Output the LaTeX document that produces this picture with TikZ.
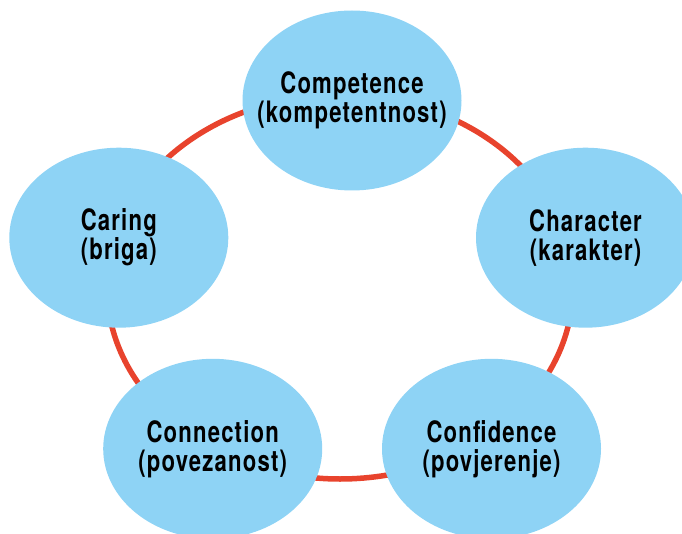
\documentclass[tikz,border=0pt]{standalone}
\usepackage{fontspec}
\usetikzlibrary{shapes.geometric}
\newfontfamily\bubblefont[FakeStretch=0.75,LetterSpace=4]{TeX Gyre Heros}
\definecolor{ringred}{RGB}{232,67,45}
\definecolor{bubbleblue}{RGB}{142,211,245}

\begin{document}
\begin{tikzpicture}[x=1pt,y=-1pt,
  bubble/.style={ellipse, fill=bubbleblue, minimum width=219pt, minimum height=180pt, inner sep=0pt},
  caption/.style={align=center, inner sep=0pt, font=\bubblefont\bfseries\fontsize{29.5}{29}\selectfont},
  ring/.style={draw=ringred, line width=5.5pt}]
\clip (0,0) rectangle (682,534);
% ring behind the five bubbles
\coordinate (mid) at (340,287);
\draw[ring] (mid) ellipse [x radius=233, y radius=192];
\node[bubble, label={[caption]center:Competence\\(kompetentnost)}] (competence) at (352,100.5) {};
\node[bubble, label={[caption]center:Character\\(karakter)}] (character) at (585.5,237.7) {};
\node[bubble, label={[caption]center:Confidence\\(povjerenje)}] (confidence) at (491.5,448.8) {};
\node[bubble, label={[caption]center:Connection\\(povezanost)}] (connection) at (212.7,448.8) {};
\node[bubble, label={[caption]center:Caring\\(briga)}] (caring) at (118.8,237.7) {};
\end{tikzpicture}
\end{document}
